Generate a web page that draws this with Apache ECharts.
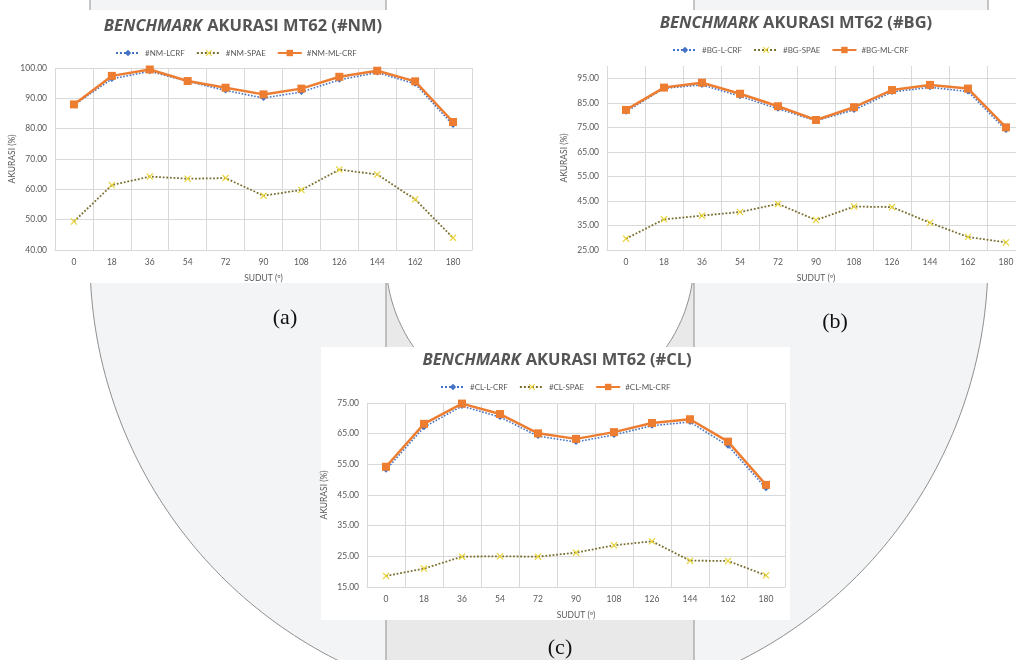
<!DOCTYPE html>
<html>
<head>
<meta charset="utf-8">
<script src="https://cdn.jsdelivr.net/npm/echarts@6/dist/echarts.min.js"></script>
<style>html,body{margin:0;padding:0;background:#fff;overflow:hidden;width:1016px;height:660px}#c{width:1032px;height:660px}</style>
</head>
<body>
<div id="c"></div>
<script>
// ---- data ----
const categories = ['0','18','36','54','72','90','108','126','144','162','180'];

const nmNames = ['#NM-LCRF', '#NM-SPAE', '#NM-ML-CRF'];
const nmLcrf  = [87.8, 96.4, 98.9, 95.6, 92.6, 90.1, 92.1, 96.1, 98.5, 94.8, 81.2];
const nmSpae  = [49.4, 61.4, 64.2, 63.5, 63.7, 57.9, 59.8, 66.5, 64.9, 56.7, 44.0];
const nmMlcrf = [88.0, 97.4, 99.5, 95.7, 93.5, 91.3, 93.2, 97.1, 99.1, 95.6, 82.2];

const bgNames = ['#BG-L-CRF', '#BG-SPAE', '#BG-ML-CRF'];
const bgLcrf  = [81.4, 90.9, 92.3, 87.7, 82.6, 77.7, 82.1, 89.4, 91.3, 89.6, 73.9];
const bgSpae  = [29.6, 37.5, 39.0, 40.5, 43.8, 37.2, 42.7, 42.5, 36.1, 30.3, 28.1];
const bgMlcrf = [82.1, 91.2, 93.2, 88.7, 83.6, 78.0, 83.2, 90.2, 92.3, 90.8, 75.0];

const clNames = ['#CL-L-CRF', '#CL-SPAE', '#CL-ML-CRF'];
const clLcrf  = [53.2, 67.1, 74.0, 70.4, 64.2, 62.3, 64.6, 67.6, 68.8, 61.1, 47.2];
const clSpae  = [18.6, 21.0, 24.9, 25.0, 24.9, 26.2, 28.6, 29.9, 23.6, 23.5, 18.8];
const clMlcrf = [54.2, 68.2, 74.8, 71.4, 65.1, 63.3, 65.5, 68.5, 69.7, 62.4, 48.3];

const titleTexts = ['AKURASI MT62 (#NM)', 'AKURASI MT62 (#BG)', 'AKURASI MT62 (#CL)'];
const panelLabels = ['(a)', '(b)', '(c)'];
const yAxisName = 'AKURASI (%)';
const xAxisName = 'SUDUT (\u00BA)';

// ---- styles ----
const GRID = '#d9d9d9';
const LBL = '#595959';
const FONT = 'Lato';
const xMark = 'path://M0,1.2 L1.2,0 L5,3.8 L8.8,0 L10,1.2 L6.2,5 L10,8.8 L8.8,10 L5,6.2 L1.2,10 L0,8.8 L3.8,5 Z';

const chart = echarts.init(document.getElementById('c'));

function mkTitle(text, cx, cy) {
  return {
    text: '{i|BENCHMARK} {b|' + text + '}',
    left: cx, top: cy - 11, textAlign: 'center',
    textStyle: {
      rich: {
        i: { fontFamily: 'Open Sans', fontWeight: 'bold', fontStyle: 'italic', fontSize: 16.5, color: '#555555' },
        b: { fontFamily: 'Open Sans', fontWeight: 'bold', fontSize: 16.5, color: '#555555' }
      }
    }
  };
}
function mkLegend(names, left, cy) {
  return {
    data: names, left: left, top: cy - 5, itemWidth: 24, itemHeight: 8, itemGap: 11,
    textStyle: { fontFamily: FONT, fontSize: 8, color: LBL }
  };
}
function mkX(gi) {
  return {
    type: 'category', gridIndex: gi, data: categories, boundaryGap: true,
    name: xAxisName, nameLocation: 'middle', nameGap: 24,
    nameTextStyle: { fontFamily: FONT, fontSize: 8.5, color: LBL },
    axisLine: { lineStyle: { color: GRID } }, axisTick: { show: false },
    axisLabel: { fontFamily: FONT, fontSize: 8.5, color: LBL, margin: 8 },
    splitLine: { show: true, lineStyle: { color: GRID } }
  };
}
function mkY(gi, min, max, hideMax) {
  return {
    type: 'value', gridIndex: gi, min: min, max: max, interval: 10,
    name: yAxisName, nameLocation: 'middle', nameGap: 38, nameRotate: 90,
    nameTextStyle: { fontFamily: FONT, fontSize: 8.5, color: LBL },
    axisLine: { show: false }, axisTick: { show: false },
    axisLabel: { fontFamily: FONT, fontSize: 8.5, color: LBL, margin: 8,
      formatter: v => (hideMax && v === max) ? '' : v.toFixed(2) },
    splitLine: { show: true, showMaxLine: !hideMax, lineStyle: { color: GRID } }
  };
}
function mkSeries(names, a, b, c, gi) {
  return [
    { name: names[0], type: 'line', xAxisIndex: gi, yAxisIndex: gi, data: a,
      symbol: 'diamond', symbolSize: 6, itemStyle: { color: '#4472c4' },
      lineStyle: { color: '#4472c4', type: 'dotted', width: 1.6 } },
    { name: names[1], type: 'line', xAxisIndex: gi, yAxisIndex: gi, data: b,
      symbol: xMark, symbolSize: 7, itemStyle: { color: '#e9d43a' },
      lineStyle: { color: '#7a6f2e', type: 'dotted', width: 1.8 } },
    { name: names[2], type: 'line', xAxisIndex: gi, yAxisIndex: gi, data: c,
      symbol: 'rect', symbolSize: 8, itemStyle: { color: '#ed7d31' },
      lineStyle: { color: '#ed7d31', type: 'solid', width: 2.5 } }
  ];
}

// decorative U-shapes (rectangle top + half circle bottom), built as polygons
function uShape(cx, cy, r, top) {
  const pts = [[cx - r, top], [cx - r, cy]];
  for (let i = 1; i < 180; i++) {
    const a = Math.PI - i * Math.PI / 180;
    pts.push([cx + r * Math.cos(a), cy + r * Math.sin(a)]);
  }
  pts.push([cx + r, cy], [cx + r, top]);
  return pts;
}

const BORDER = '#8f8f8f';
const graphics = [
  { type: 'polygon', z: -20, shape: { points: uShape(539, 259, 449, -30) },
    style: { fill: '#f3f4f6', stroke: BORDER, lineWidth: 1 } },
  { type: 'rect', z: -19, shape: { x: 386, y: 259, width: 308, height: 430 },
    style: { fill: '#e9e9e9' } },
  { type: 'line', z: -18, shape: { x1: 386, y1: 259, x2: 386, y2: 680 }, style: { stroke: BORDER, lineWidth: 1 } },
  { type: 'line', z: -18, shape: { x1: 694, y1: 259, x2: 694, y2: 680 }, style: { stroke: BORDER, lineWidth: 1 } },
  { type: 'polygon', z: -17, shape: { points: uShape(540, 259, 154, -30) },
    style: { fill: '#ffffff', stroke: BORDER, lineWidth: 1 } },
  { type: 'rect', z: -16, shape: { x: 0, y: 10, width: 500, height: 273 }, style: { fill: '#ffffff' } },
  { type: 'rect', z: -16, shape: { x: 545, y: 10, width: 490, height: 273 }, style: { fill: '#ffffff' } },
  { type: 'rect', z: -16, shape: { x: 321, y: 347, width: 469, height: 273 }, style: { fill: '#ffffff' } },
  { type: 'text', z: -15, x: 285, y: 318, style: { text: panelLabels[0], fontFamily: 'Liberation Serif', fontSize: 22, fill: '#111', textAlign: 'center', textVerticalAlign: 'middle' } },
  { type: 'text', z: -15, x: 835, y: 322, style: { text: panelLabels[1], fontFamily: 'Liberation Serif', fontSize: 22, fill: '#111', textAlign: 'center', textVerticalAlign: 'middle' } },
  { type: 'text', z: -15, x: 560, y: 648, style: { text: panelLabels[2], fontFamily: 'Liberation Serif', fontSize: 22, fill: '#111', textAlign: 'center', textVerticalAlign: 'middle' } }
];

chart.setOption({
  animation: false,
  backgroundColor: '#ffffff',
  graphic: { elements: graphics },
  title: [mkTitle(titleTexts[0], 238, 23), mkTitle(titleTexts[1], 791, 20), mkTitle(titleTexts[2], 552, 357)],
  legend: [mkLegend(nmNames, 110, 49), mkLegend(bgNames, 667, 46), mkLegend(clNames, 435, 383)],
  grid: [
    { left: 55, top: 68, width: 417, height: 182 },
    { left: 607, top: 66, width: 418, height: 184 },
    { left: 367, top: 403, width: 418, height: 184 }
  ],
  xAxis: [mkX(0), mkX(1), mkX(2)],
  yAxis: [mkY(0, 40, 100, false), mkY(1, 25, 100, true), mkY(2, 15, 75, false)],
  series: [].concat(
    mkSeries(nmNames, nmLcrf, nmSpae, nmMlcrf, 0),
    mkSeries(bgNames, bgLcrf, bgSpae, bgMlcrf, 1),
    mkSeries(clNames, clLcrf, clSpae, clMlcrf, 2)
  )
});
</script>
</body>
</html>
